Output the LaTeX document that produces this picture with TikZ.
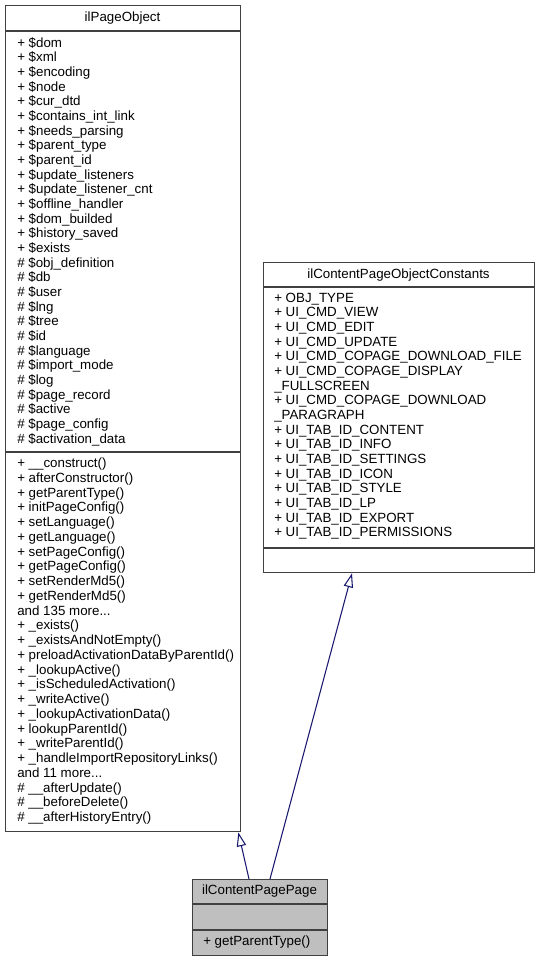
\documentclass[tikz,border=0pt]{standalone}
\usepackage{fontspec}
\setmainfont{Liberation Sans}
\definecolor{EdgeNavy}{HTML}{191970}
\definecolor{BoxLine}{HTML}{404040}
\definecolor{BoxGray}{HTML}{BFBFBF}
\usetikzlibrary{arrows.meta, calc}
\newcommand{\moredots}{...}

\tikzset{
  classbox/.style={draw=BoxLine, line width=1pt, anchor=north west, inner sep=0pt},
  member/.style={anchor=base west},
  title/.style={anchor=base},
  inherit/.style={EdgeNavy, line width=0.8pt, -{Triangle[open, length=10.5pt, width=7pt]}}
}

\begin{document}
\begin{tikzpicture}[x=0.75pt, y=-0.75pt, every node/.style={font=\fontsize{10}{11}\selectfont, inner sep=0pt}]
  \useasboundingbox (0,0) rectangle (539,961);

  % ilPageObject
  \node[classbox, fill=white, minimum width=176.25pt, minimum height=619.5pt] (pobj) at (5,5) {};
  \draw[BoxLine, line width=1pt] (pobj.west |- 0,31) -- (pobj.east |- 0,31);
  \draw[BoxLine, line width=1pt] (pobj.west |- 0,452) -- (pobj.east |- 0,452);
  \node[title] (pobj-title) at (122.5, 21) {ilPageObject};
  \foreach \t [count=\i from 0] in {+ \$dom, + \$xml, + \$encoding, + \$node, + \$cur\_dtd,
      + \$contains\_int\_link, + \$needs\_parsing, + \$parent\_type, + \$parent\_id,
      + \$update\_listeners, + \$update\_listener\_cnt, + \$offline\_handler,
      + \$dom\_builded, + \$history\_saved, + \$exists, \# \$obj\_definition, \# \$db,
      \# \$user, \# \$lng, \# \$tree, \# \$id, \# \$language, \# \$import\_mode, \# \$log,
      \# \$page\_record, \# \$active, \# \$page\_config, \# \$activation\_data} {
    \node[member] (pobj-a\i) at (17, 47+\i*14.67) {\t};
  }
  \foreach \t [count=\i from 0] in {+ \_\_construct(), + afterConstructor(), + getParentType(),
      + initPageConfig(), + setLanguage(), + getLanguage(), + setPageConfig(),
      + getPageConfig(), + setRenderMd5(), + getRenderMd5(), and 135 more\moredots, + \_exists(),
      + \_existsAndNotEmpty(), + preloadActivationDataByParentId(), + \_lookupActive(),
      + \_isScheduledActivation(), + \_writeActive(), + \_lookupActivationData(),
      + lookupParentId(), + \_writeParentId(), + \_handleImportRepositoryLinks(),
      and 11 more\moredots, \# \_\_afterUpdate(), \# \_\_beforeDelete(), \# \_\_afterHistoryEntry()} {
    \node[member] (pobj-m\i) at (17, 467.5+\i*14.75) {\t};
  }

  % ilContentPageObjectConstants
  \node[classbox, fill=white, minimum width=203.25pt, minimum height=232.5pt] (consts) at (263,262) {};
  \draw[BoxLine, line width=1pt] (consts.west |- 0,287) -- (consts.east |- 0,287);
  \draw[BoxLine, line width=1pt] (consts.west |- 0,548) -- (consts.east |- 0,548);
  \node[title] (consts-title) at (398.5, 278) {ilContentPageObjectConstants};
  \foreach \t [count=\i from 0] in {+ OBJ\_TYPE, + UI\_CMD\_VIEW, + UI\_CMD\_EDIT,
      + UI\_CMD\_UPDATE, + UI\_CMD\_COPAGE\_DOWNLOAD\_FILE, + UI\_CMD\_COPAGE\_DISPLAY,
      \_FULLSCREEN, + UI\_CMD\_COPAGE\_DOWNLOAD, \_PARAGRAPH, + UI\_TAB\_ID\_CONTENT,
      + UI\_TAB\_ID\_INFO, + UI\_TAB\_ID\_SETTINGS, + UI\_TAB\_ID\_ICON, + UI\_TAB\_ID\_STYLE,
      + UI\_TAB\_ID\_LP, + UI\_TAB\_ID\_EXPORT, + UI\_TAB\_ID\_PERMISSIONS} {
    \node[member] (consts-a\i) at (274, 302+\i*14.67) {\t};
  }

  % ilContentPagePage
  \node[classbox, fill=BoxGray, minimum width=101.25pt, minimum height=57pt] (cpage) at (192,879) {};
  \draw[BoxLine, line width=1pt] (cpage.west |- 0,904) -- (cpage.east |- 0,904);
  \draw[BoxLine, line width=1pt] (cpage.west |- 0,930) -- (cpage.east |- 0,930);
  \node[title] (cpage-title) at (259.5, 894) {ilContentPagePage};
  \node[member] (cpage-m0) at (203, 945) {+ getParentType()};

  % inheritance
  \draw[inherit] ($(cpage.north west)+(57,0)$) -- ($(pobj.south east)+(-3,0)$);
  \draw[inherit] ($(cpage.north west)+(78,0)$) -- ($(consts.south west)+(89,0)$);
\end{tikzpicture}
\end{document}
